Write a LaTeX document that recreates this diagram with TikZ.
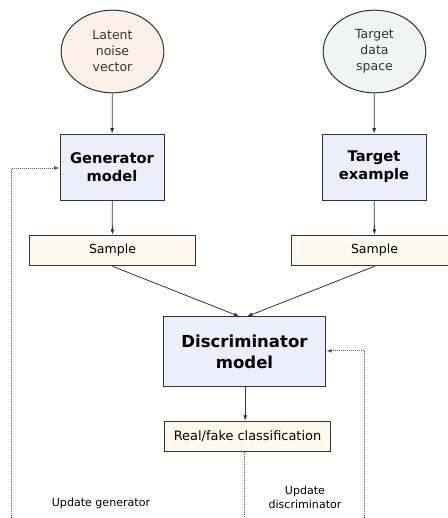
\documentclass[tikz,border=0pt]{standalone}
\usepackage{fontspec}
\setmainfont{DejaVu Sans}
\usetikzlibrary{shapes.geometric,arrows.meta}
\definecolor{peach}{HTML}{FDF1E7}
\definecolor{mist}{HTML}{F0F5F3}
\definecolor{lav}{HTML}{ECEEFC}
\definecolor{cream}{HTML}{FEF9EC}
\definecolor{edge}{HTML}{333333}
\tikzset{
    space/.style={ellipse, draw=edge, line width=0.75pt, minimum width=77pt,
        minimum height=62pt, inner sep=0pt, align=center, text=edge,
        font=\fontsize{9.4}{12}\selectfont},
    model/.style={draw=edge, line width=0.75pt, fill=lav, minimum width=78pt,
        minimum height=49.5pt, inner sep=0pt, align=center,
        font=\fontsize{11}{13.3}\selectfont\bfseries},
    sample/.style={draw=edge, line width=0.75pt, fill=cream, minimum width=124pt,
        minimum height=23pt, inner sep=0pt, font=\fontsize{9.4}{12}\selectfont},
    flow/.style={-{Latex[length=4pt,width=3pt]}, line width=0.6pt, edge},
    fine/.style={dash pattern=on 0.75pt off 0.75pt, line width=0.6pt, black!65},
    update/.style={fine, -{Latex[length=4pt,width=3pt]}},
    note/.style={align=center, font=\fontsize{8.3}{11}\selectfont}
}
\begin{document}
\begin{tikzpicture}[x=0.75pt, y=-0.75pt]
    \useasboundingbox (0,0) rectangle (448,518);
    \clip (0,0) rectangle (448,518);
    % sources
    \node[space, fill=peach] (noise) at (112.5,51.5) {Latent\\noise\\vector};
    \node[space, fill=mist] (data) at (374.5,51.5) {Target\\data\\space};
    % models
    \node[model] (gen) at (112,167) {Generator\\model};
    \node[model] (target) at (374,167) {Target\\example};
    \node[sample] (sam1) at (112.5,250.5) {Sample};
    \node[sample] (sam2) at (374.5,250.5) {Sample};
    \node[model, minimum width=122pt, minimum height=52pt,
        font=\fontsize{12.4}{15.75}\selectfont\bfseries] (disc) at (244.5,351.5)
        {Discriminator\\model};
    \node[sample, minimum width=125pt, font=\fontsize{9.7}{12}\selectfont]
        (class) at (247.5,436.5) {Real/fake classification};
    % main flow
    \draw[flow] (noise) -- (gen);
    \draw[flow] (data) -- (target);
    \draw[flow] (gen) -- (sam1);
    \draw[flow] (target) -- (sam2);
    \draw[flow] (sam1.south) -- ([xshift=-4pt]disc.north);
    \draw[flow] (sam2.south) -- ([xshift=2pt]disc.north);
    \draw[flow] ([xshift=0.5pt]disc.south) -- ([xshift=-1.75pt]class.north);
    % feedback
    \coordinate (gl) at (11.5,518);
    \coordinate (dr) at (364.5,518);
    \coordinate (cb) at (244.5,518);
    \draw[update] (gl) |- ([yshift=-0.75pt]gen.west);
    \draw[update] (dr) |- ([yshift=0.5pt]disc.east);
    \draw[fine] ([xshift=-2.25pt]class.south) -- (cb);
    \node[note] (ugen) at (101,503) {Update generator};
    \node[note] (udisc) at (305,497.5) {Update\\discriminator};
\end{tikzpicture}
\end{document}
